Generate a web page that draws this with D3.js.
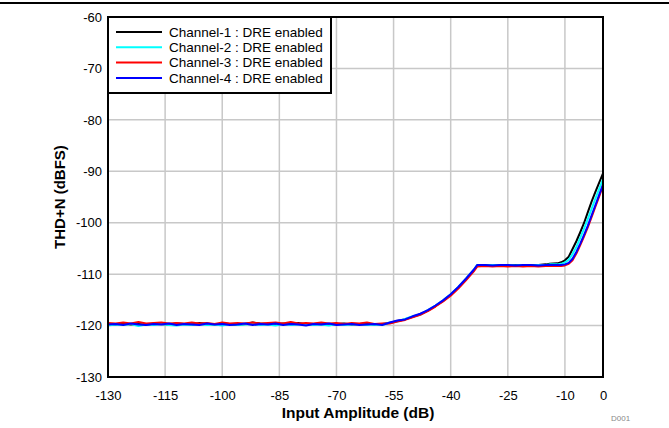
<!DOCTYPE html>
<html><head><meta charset="utf-8">
<script src="https://cdn.jsdelivr.net/npm/d3@7"></script>
<style>body{margin:0;background:#fff;}svg{display:block;font-family:"Liberation Sans",Arial,sans-serif;}</style>
</head><body><svg id="c" width="669" height="428"></svg>
<script>
// ---- data ----
const xFlat = [-130,-128,-126,-124,-122,-120,-118,-116,-114,-112,-110,-108,-106,-104,-102,-100,-98,-96,-94,-92,-90,-88,-86,-84,-82,-80,-78,-76,-74,-72,-70,-68,-66,-64,-62,-60,-58];
const xRise = [-56,-54,-52,-50,-48,-46,-44,-42,-40,-38,-36,-34];
const xPlat = [-33,-31,-29,-27,-25,-23,-21,-19,-17,-15,-14];
const xTail = [-12,-11,-10,-9,-8,-7,-6,-5,-4,-3,-2,-1,0];
const xValues = xFlat.concat(xRise, xPlat, xTail);

const ch1 = [-119.7,-119.8,-119.6,-119.8,-119.7,-119.9,-119.6,-119.7,-119.8,-119.6,-119.7,-119.8,-119.5,-119.7,-119.8,-119.6,-119.7,-119.9,-119.7,-119.4,-119.6,-119.7,-119.8,-119.6,-119.7,-119.5,-119.8,-119.7,-119.6,-119.8,-119.7,-119.6,-119.8,-119.7,-119.6,-119.8,-119.7,
  -119.5,-119.1,-118.8,-118.3,-117.8,-117.1,-116.2,-115.2,-114.0,-112.6,-111.0,-109.3,
  -108.3,-108.2,-108.3,-108.2,-108.3,-108.2,-108.3,-108.2,-108.2,-108.1,-108.0,
  -107.9,-107.7,-107.3,-106.6,-105.1,-103.6,-101.9,-100.1,-98.0,-95.9,-94.0,-92.2,-90.4];
const ch2 = [-120.0,-119.8,-119.9,-119.7,-120.1,-119.8,-119.9,-119.7,-119.9,-120.0,-119.8,-119.9,-119.7,-119.9,-119.8,-120.0,-119.7,-119.9,-119.8,-119.7,-119.9,-119.8,-120.0,-119.7,-119.9,-119.8,-119.7,-119.9,-119.8,-120.0,-119.7,-119.9,-119.8,-119.7,-119.9,-119.8,-119.9,
  -119.4,-119.2,-118.7,-118.2,-117.9,-117.0,-116.1,-115.1,-113.9,-112.5,-110.9,-109.2,
  -108.2,-108.3,-108.2,-108.3,-108.2,-108.3,-108.2,-108.3,-108.2,-108.2,-108.1,
  -108.1,-108.0,-107.7,-107.2,-106.1,-104.7,-103.0,-101.2,-99.3,-97.3,-95.3,-93.4,-91.5];
const ch3 = [-119.5,-119.6,-119.4,-119.6,-119.3,-119.6,-119.5,-119.4,-119.6,-119.5,-119.6,-119.4,-119.6,-119.5,-119.7,-119.4,-119.6,-119.5,-119.6,-119.4,-119.6,-119.5,-119.4,-119.6,-119.3,-119.6,-119.5,-119.6,-119.4,-119.6,-119.5,-119.7,-119.5,-119.6,-119.4,-119.7,-119.6,
  -119.6,-119.2,-118.9,-118.4,-117.9,-117.2,-116.3,-115.3,-114.2,-112.8,-111.2,-109.5,
  -108.5,-108.4,-108.5,-108.4,-108.5,-108.4,-108.5,-108.4,-108.5,-108.4,-108.4,
  -108.4,-108.4,-108.3,-108.0,-107.3,-106.0,-104.4,-102.7,-100.9,-98.9,-96.9,-94.9,-92.8];
const ch4 = [-119.8,-119.7,-119.9,-119.6,-119.8,-119.9,-119.7,-119.8,-119.6,-119.9,-119.7,-119.8,-119.9,-119.6,-119.8,-119.7,-119.9,-119.8,-119.6,-119.9,-119.7,-119.8,-119.6,-119.9,-119.7,-119.8,-120.0,-119.7,-119.8,-119.6,-119.9,-119.8,-119.7,-119.9,-119.8,-119.7,-119.9,
  -119.4,-119.0,-118.8,-118.2,-117.7,-117.0,-116.1,-115.1,-113.9,-112.5,-110.9,-109.2,
  -108.2,-108.2,-108.3,-108.2,-108.2,-108.3,-108.2,-108.2,-108.3,-108.2,-108.2,
  -108.2,-108.2,-108.1,-107.8,-107.0,-105.7,-104.1,-102.4,-100.6,-98.6,-96.6,-94.6,-92.6];

const seriesNames = ["Channel-1 : DRE enabled","Channel-2 : DRE enabled","Channel-3 : DRE enabled","Channel-4 : DRE enabled"];
const seriesColors = ["#000000","#00ffff","#ff0000","#0000ff"];
const seriesValues = [ch1, ch2, ch3, ch4];
const xTicks = [-130,-115,-100,-85,-70,-55,-40,-25,-10,0];
const yTicks = [-130,-120,-110,-100,-90,-80,-70,-60];

// ---- drawing ----
const svg = d3.select("#c");
const L = 108, R = 603, T = 17, B = 377;
const x = d3.scaleLinear().domain([-130,0]).range([L,R]);
const y = d3.scaleLinear().domain([-130,-60]).range([B,T]);
const fmt = d => String(d);

svg.append("line").attr("x1",0).attr("x2",669).attr("y1",3).attr("y2",3).attr("stroke","#000").attr("stroke-width",2);

// grid
svg.append("g").selectAll("line").data(xTicks.slice(1,-1)).join("line")
  .attr("x1",d=>x(d)).attr("x2",d=>x(d)).attr("y1",T).attr("y2",B)
  .attr("stroke","#c8c8c8").attr("stroke-width",1.5);
svg.append("g").selectAll("line").data(yTicks.slice(1,-1)).join("line")
  .attr("x1",L).attr("x2",R).attr("y1",d=>y(d)).attr("y2",d=>y(d))
  .attr("stroke","#c8c8c8").attr("stroke-width",1.5);

// axes
const xAxis = svg.append("g").attr("transform",`translate(0,${B})`)
  .call(d3.axisBottom(x).tickValues(xTicks).tickSize(0).tickPadding(14).tickFormat(fmt));
const yAxis = svg.append("g").attr("transform",`translate(${L},0)`)
  .call(d3.axisLeft(y).tickValues(yTicks).tickSize(0).tickPadding(6).tickFormat(fmt));
[xAxis,yAxis].forEach(a=>{a.select(".domain").remove();
  a.selectAll("text").attr("font-size",13).attr("fill","#000").attr("font-family","'Liberation Sans',Arial,sans-serif");});

// lines
const line = d3.line().x((d,i)=>x(xValues[i])).y(d=>y(d)).curve(d3.curveLinear);
seriesValues.forEach((vals,k)=>{
  svg.append("path").datum(vals).attr("d",line).attr("fill","none")
    .attr("stroke",seriesColors[k]).attr("stroke-width",2).attr("stroke-linejoin","round");
});

// frame
svg.append("rect").attr("x",L).attr("y",T).attr("width",R-L).attr("height",B-T)
  .attr("fill","none").attr("stroke","#000").attr("stroke-width",2);

// legend
const lg = svg.append("g");
lg.append("rect").attr("x",L).attr("y",T).attr("width",223).attr("height",76)
  .attr("fill","#fff").attr("stroke","#000").attr("stroke-width",2);
seriesNames.forEach((n,k)=>{
  const yy = 32 + k*15.3;
  lg.append("line").attr("x1",116).attr("x2",162).attr("y1",yy).attr("y2",yy)
    .attr("stroke",seriesColors[k]).attr("stroke-width",2);
  lg.append("text").attr("x",169).attr("y",yy+4.7).attr("font-size",13.5).text(n);
});

// labels
svg.append("text").attr("x",358).attr("y",418).attr("text-anchor","middle")
  .attr("font-size",15.5).attr("font-weight","bold").text("Input Amplitude (dB)");
svg.append("text").attr("transform","translate(65,197) rotate(-90)").attr("text-anchor","middle")
  .attr("font-size",15).attr("font-weight","bold").text("THD+N (dBFS)");
svg.append("text").attr("x",611).attr("y",421).attr("font-size",8).attr("fill","#888").text("D001");
</script></body></html>
